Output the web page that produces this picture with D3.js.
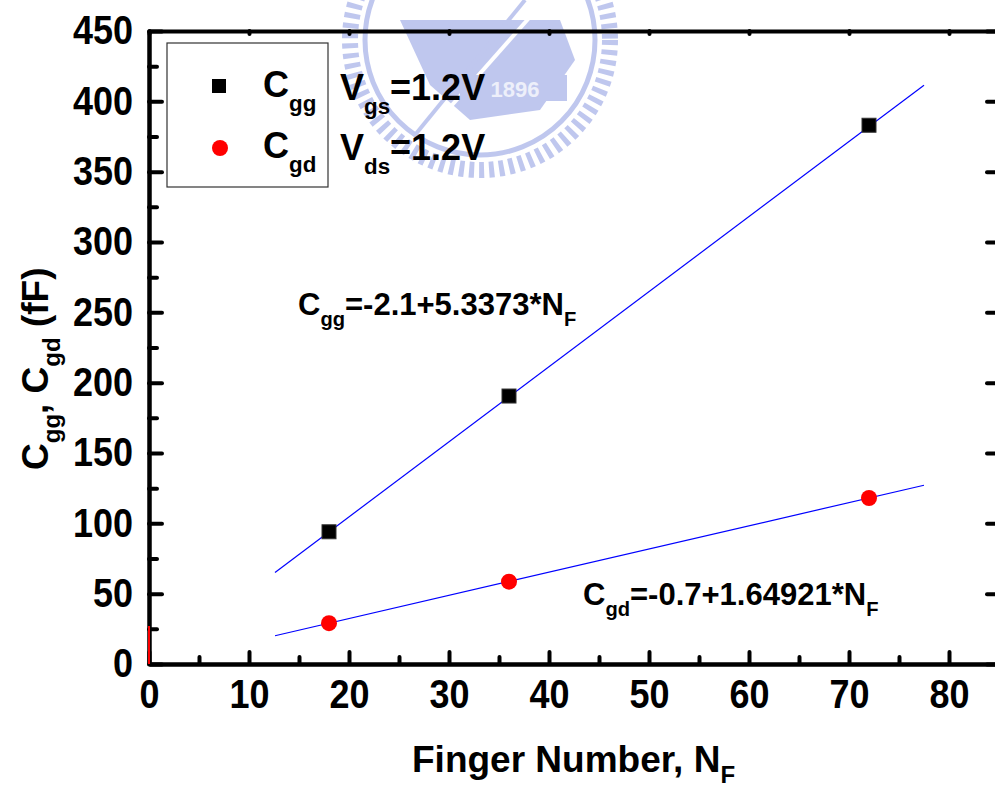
<!DOCTYPE html>
<html>
<head>
<meta charset="utf-8">
<script src="https://cdn.jsdelivr.net/npm/d3@7"></script>
<style>
  body { margin: 0; background: #fff; }
  svg text { font-family: "Liberation Sans", Arial, sans-serif; font-weight: bold; }
</style>
</head>
<body>
<div id="chart"></div>
<script>
// finger number vs capacitance
var fingers = [18, 36, 72];
var cgg = [94, 190.5, 383];
var cgd = [29, 58.5, 118];
// fitted lines, end points
var cggFit = [[12.6, 65.1], [77.5, 411.5]];
var cgdFit = [[12.6, 20.1], [77.5, 127.1]];
var redStub = [[0, 0], [0, 27]];
var xMajor = [0, 10, 20, 30, 40, 50, 60, 70, 80];
var xMinor = [5, 15, 25, 35, 45, 55, 65, 75, 85];
var yMajor = [0, 50, 100, 150, 200, 250, 300, 350, 400, 450];
var yMinor = [25, 75, 125, 175, 225, 275, 325, 375, 425];

var W = 995, H = 791;
var svg = d3.select("#chart").append("svg")
  .attr("width", W).attr("height", H);

var x = d3.scaleLinear().domain([0, 85]).range([149, 999]);
var y = d3.scaleLinear().domain([0, 450]).range([664, 31]);

// faint watermark logo
var wm = svg.append("g").attr("opacity", 0.65);
var wmc = "#9eaae6";
wm.append("circle").attr("cx", 480).attr("cy", 40).attr("r", 130)
  .attr("fill", "none").attr("stroke", wmc).attr("stroke-width", 16)
  .attr("stroke-dasharray", "5 5");
wm.append("circle").attr("cx", 480).attr("cy", 40).attr("r", 115)
  .attr("fill", "none").attr("stroke", wmc).attr("stroke-width", 5);
wm.append("path").attr("d", "M400,20 L560,20 L575,60 L540,110 L470,120 L430,85 Z")
  .attr("fill", wmc);
wm.append("line").attr("x1", 430).attr("y1", 130).attr("x2", 545).attr("y2", 0)
  .attr("stroke", "#fff").attr("stroke-width", 4);
wm.append("line").attr("x1", 415).attr("y1", 135).attr("x2", 525).attr("y2", 0)
  .attr("stroke", wmc).attr("stroke-width", 4);
wm.append("rect").attr("x", 460).attr("y", 75).attr("width", 107).attr("height", 26)
  .attr("fill", wmc);
wm.append("text").attr("x", 515).attr("y", 97).attr("text-anchor", "middle")
  .attr("fill", "#e4e8f8").attr("font-size", 22).text("1896");

// axes
function styleAxis(g) {
  g.selectAll("path.domain").attr("stroke", "#000").attr("stroke-width", 4);
  g.selectAll(".tick line").attr("stroke", "#000").attr("stroke-width", 4)
    .attr("stroke-linecap", "round");
  g.selectAll(".tick text").attr("fill", "#000").attr("font-size", 36)
    .attr("transform", "scale(1,1.12)")
    .style("font-family", "'Liberation Sans', Arial, sans-serif").style("font-weight", "bold");
}

var gx = svg.append("g").attr("transform", "translate(0," + y(0) + ")")
  .call(d3.axisBottom(x).tickValues(xMajor).tickSize(-12).tickSizeOuter(0)
    .tickPadding(14).tickFormat(d3.format("d")));
styleAxis(gx);
var gxm = svg.append("g").attr("transform", "translate(0," + y(0) + ")")
  .call(d3.axisBottom(x).tickValues(xMinor).tickSize(-7).tickSizeOuter(0).tickFormat(""));
styleAxis(gxm);

var gy = svg.append("g").attr("transform", "translate(" + x(0) + ",0)")
  .call(d3.axisLeft(y).tickValues(yMajor).tickSize(-13).tickSizeOuter(0)
    .tickPadding(16).tickFormat(d3.format("d")));
styleAxis(gy);
var gym = svg.append("g").attr("transform", "translate(" + x(0) + ",0)")
  .call(d3.axisLeft(y).tickValues(yMinor).tickSize(-8).tickSizeOuter(0).tickFormat(""));
styleAxis(gym);

// top and right frame
var gt = svg.append("g").attr("transform", "translate(0," + y(450) + ")")
  .call(d3.axisTop(x).tickValues(xMajor).tickSize(-3).tickSizeOuter(0).tickFormat(""));
styleAxis(gt);
var gr = svg.append("g").attr("transform", "translate(" + x(85) + ",0)")
  .call(d3.axisRight(y).tickValues(yMajor).tickSize(-12).tickSizeOuter(0).tickFormat(""));
styleAxis(gr);

// fit lines
var line = d3.line().x(function(d) { return x(d[0]); }).y(function(d) { return y(d[1]); });
svg.append("path").datum(cggFit).attr("d", line)
  .attr("fill", "none").attr("stroke", "#0000ff").attr("stroke-width", 1.2);
svg.append("path").datum(cgdFit).attr("d", line)
  .attr("fill", "none").attr("stroke", "#0000ff").attr("stroke-width", 1.2);
svg.append("path").datum(redStub).attr("d", line)
  .attr("fill", "none").attr("stroke", "#ff0000").attr("stroke-width", 2);

// points
svg.append("g").selectAll("rect").data(fingers).enter().append("rect")
  .attr("x", function(d) { return x(d) - 7; })
  .attr("y", function(d, i) { return y(cgg[i]) - 7; })
  .attr("width", 14).attr("height", 14)
  .attr("fill", "#000").attr("stroke", "#333").attr("stroke-width", 1);
svg.append("g").selectAll("circle").data(fingers).enter().append("circle")
  .attr("cx", function(d) { return x(d); })
  .attr("cy", function(d, i) { return y(cgd[i]); })
  .attr("r", 8).attr("fill", "#ff0000");

// text with subscripts
function subText(px, py, size, parts) {
  var t = svg.append("text").attr("x", px).attr("y", py).attr("font-size", size).attr("fill", "#000");
  parts.forEach(function(p) {
    var s = t.append("tspan").text(p[0]);
    if (p[1]) s.attr("font-size", p[1] * size).attr("dy", p[2]);
    if (p[3]) s.attr("dy", p[3]);
  });
  return t;
}

// legend
svg.append("rect").attr("x", 167).attr("y", 43).attr("width", 161).attr("height", 144)
  .attr("fill", "none").attr("stroke", "#333").attr("stroke-width", 1.2);
svg.append("rect").attr("x", 212).attr("y", 79).attr("width", 14).attr("height", 14).attr("fill", "#000");
svg.append("circle").attr("cx", 220).attr("cy", 148).attr("r", 8).attr("fill", "#ff0000");
subText(263, 97, 36, [["C"], ["gg", 0.62, 14]]);
subText(263, 158, 36, [["C"], ["gd", 0.62, 14]]);
subText(340, 100, 36, [["V"], ["gs", 0.62, 14], ["=1.2V", 0, 0, -14]]);
subText(340, 160, 36, [["V"], ["ds", 0.62, 14], ["=1.2V", 0, 0, -14]]);

// fit equations
subText(298, 315, 31, [["C"], ["gg", 0.65, 11], ["=-2.1+5.3373*N", 0, 0, -11], ["F", 0.65, 11]]);
subText(583, 605, 31, [["C"], ["gd", 0.65, 11], ["=-0.7+1.64921*N", 0, 0, -11], ["F", 0.65, 11]]);

// axis titles
var xt = svg.append("text").attr("x", 412).attr("y", 772).attr("font-size", 37).attr("fill", "#000");
xt.append("tspan").text("Finger Number, N");
xt.append("tspan").attr("font-size", 24).attr("dy", 11).text("F");

var yt = svg.append("text").attr("transform", "translate(48,470) rotate(-90)")
  .attr("font-size", 37).attr("fill", "#000");
yt.append("tspan").text("C");
yt.append("tspan").attr("font-size", 24).attr("dy", 12).text("gg");
yt.append("tspan").attr("dy", -12).text(", C");
yt.append("tspan").attr("font-size", 24).attr("dy", 12).text("gd");
yt.append("tspan").attr("dy", -12).text(" (fF)");
</script>
</body>
</html>
